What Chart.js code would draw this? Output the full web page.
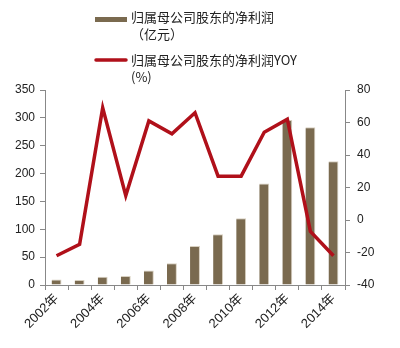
<!DOCTYPE html>
<html>
<head>
<meta charset="utf-8">
<script src="https://cdn.jsdelivr.net/npm/chart.js@4"></script>
<style>
  html, body { margin: 0; padding: 0; background: #fff; }
  #wrap { width: 400px; height: 348px; }
</style>
</head>
<body>
<div id="wrap"><canvas id="c" width="400" height="348"></canvas></div>
<script>
// data
const years = ['2002年', '2003年', '2004年', '2005年', '2006年', '2007年', '2008年',
               '2009年', '2010年', '2011年', '2012年', '2013年', '2014年'];
const netProfit = [10, 9, 15, 16, 26, 39, 70, 91, 120, 182, 296, 283, 222];
const profitYoy = [-22, -15, 69, 15, 61, 53, 66, 27, 27, 54, 62, -7, -22];
const leftTicks = [0, 50, 100, 150, 200, 250, 300, 350];
const rightTicks = [-40, -20, 0, 20, 40, 60, 80];

const barColor = '#7a6a4f';
const lineColor = '#b0101a';
const fontFamily = "'Liberation Sans', 'Noto Sans CJK SC', sans-serif";
const cjkFont = "'Noto Sans CJK SC', sans-serif";

// legend with wrapped text, drawn by hand
const legendPlugin = {
  id: 'legendBox',
  afterDraw(chart) {
    const ctx = chart.ctx;
    ctx.save();
    ctx.fillStyle = barColor;
    ctx.fillRect(95, 17, 32, 5);
    ctx.strokeStyle = lineColor;
    ctx.lineWidth = 3.5;
    ctx.lineCap = 'round';
    ctx.beginPath();
    ctx.moveTo(96, 60);
    ctx.lineTo(126, 60);
    ctx.stroke();

    ctx.fillStyle = '#222';
    ctx.textBaseline = 'middle';
    ctx.font = '13px ' + cjkFont;
    ctx.fillText('归属母公司股东的净利润', 131, 17);
    ctx.fillText('（亿元）', 131, 34);
    ctx.fillText('归属母公司股东的净利润YOY', 131, 60);
    ctx.fillText('(%)', 131, 77);
    ctx.restore();
  }
};

new Chart(document.getElementById('c'), {
  data: {
    labels: years,
    datasets: [
      {
        type: 'line',
        label: '归属母公司股东的净利润YOY(%)',
        data: profitYoy,
        yAxisID: 'yRight',
        borderColor: lineColor,
        borderWidth: 3.5,
        pointRadius: 0,
        tension: 0,
        order: 0
      },
      {
        type: 'bar',
        label: '归属母公司股东的净利润（亿元）',
        data: netProfit,
        yAxisID: 'yLeft',
        backgroundColor: barColor,
        borderColor: '#d8d0c0',
        borderWidth: { right: 1, top: 1 },
        categoryPercentage: 1,
        barPercentage: 0.43,
        order: 1
      }
    ]
  },
  options: {
    responsive: false,
    animation: false,
    layout: { padding: { top: 90, left: 0, right: 0, bottom: 0 } },
    plugins: {
      legend: { display: false },
      tooltip: { enabled: false }
    },
    scales: {
      x: {
        offset: true,
        grid: { offset: true, drawOnChartArea: false, drawTicks: true, tickLength: 5, color: '#888' },
        border: { color: '#888' },
        ticks: {
          autoSkip: false,
          minRotation: 45,
          maxRotation: 45,
          padding: 1,
          color: '#222',
          font: { family: fontFamily, size: 13 },
          callback: (v, i) => (i % 2 === 0 ? years[i] : '')
        },
        afterFit(scale) { scale.height = 63; }
      },
      yLeft: {
        position: 'left',
        min: 0,
        max: 350,
        afterBuildTicks(scale) { scale.ticks = leftTicks.map(v => ({ value: v })); },
        grid: { drawOnChartArea: false, tickLength: 5, color: '#888' },
        border: { color: '#888' },
        ticks: { padding: 5, color: '#222', font: { family: fontFamily, size: 12 } },
        afterFit(scale) { scale.width = 45; }
      },
      yRight: {
        position: 'right',
        min: -40,
        max: 80,
        afterBuildTicks(scale) { scale.ticks = rightTicks.map(v => ({ value: v })); },
        grid: { drawOnChartArea: false, tickLength: 5, color: '#888' },
        border: { color: '#888' },
        ticks: { padding: 7, color: '#222', font: { family: fontFamily, size: 12 } },
        afterFit(scale) { scale.width = 55; }
      }
    }
  },
  plugins: [legendPlugin]
});
</script>
</body>
</html>
